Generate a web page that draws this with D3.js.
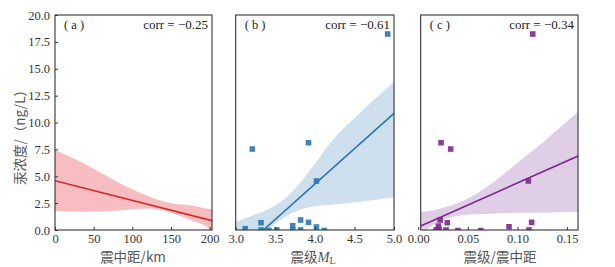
<!DOCTYPE html>
<html>
<head>
<meta charset="utf-8">
<script src="https://cdn.jsdelivr.net/npm/d3@7"></script>
<style>
  body { margin: 0; background: #fff; }
  text { font-family: "Liberation Serif", "DejaVu Serif", serif; }
  .cjk { font-family: "Noto Sans CJK SC", sans-serif; }
</style>
</head>
<body>
<svg id="chart" width="615" height="267"></svg>
<script>
// ---- data ----
const yTicks = [0, 2.5, 5, 7.5, 10, 12.5, 15, 17.5, 20];

// (a) distance vs Hg
const aTicks = [0, 50, 100, 150, 200];
const aLine = [[0, 4.59], [203, 0.87]];
const aBandX = [0, 37, 80, 123, 150, 175, 197, 203];
const aBandHi = [7.44, 6.2, 4.5, 3.1, 2.5, 2.3, 1.97, 1.93];
const aBandLo = [1.8, 1.7, 1.8, 2.0, 1.6, 0.93, 0.25, -0.1];

// (b) magnitude vs Hg
const bTicks = [3.0, 3.5, 4.0, 4.5, 5.0];
const bPtsX = [4.92, 3.21, 3.92, 4.02, 3.32, 3.12, 3.32, 3.42, 3.52, 3.72, 3.72, 3.82, 3.92, 3.82, 4.02, 4.12];
const bPtsY = [18.23, 7.53, 8.12, 4.56, 0.68, 0.12, 0, -0.05, 0, 0.4, 0, 0.93, 0.71, 0, 0.28, -0.05];
const bLine = [[3.0, -2.3], [5.0, 10.85]];
const bBandX = [3.0, 3.2, 3.4, 3.6, 3.8, 4.0, 4.2, 4.6, 5.0];
const bBandHi = [0.77, 1.3, 1.9, 2.78, 4.28, 6.17, 8.15, 11.1, 13.8];
const bBandLo = [-4, -1.5, 0, 1.1, 1.85, 2.2, 2.35, 2.65, 3.04];

// (c) magnitude / distance vs Hg
const cTicks = [0, 0.05, 0.1, 0.15];
const cPtsX = [0.1154, 0.0230, 0.0327, 0.111, 0.0222, 0.0293, 0.1143, 0.0203, 0.021, 0.018, 0.028, 0.040, 0.063, 0.0915, 0.1116];
const cPtsY = [18.23, 8.12, 7.53, 4.56, 0.93, 0.68, 0.71, 0.37, 0.06, 0, 0, -0.05, -0.05, 0.3, 0];
const cLine = [[0.0025, 0.37], [0.161, 6.88]];
const cBandX = [0.0025, 0.0102, 0.0303, 0.047, 0.074, 0.0807, 0.1076, 0.1143, 0.138, 0.161];
const cBandHi = [1.7, 1.75, 2.2, 2.79, 4.34, 4.8, 6.82, 7.3, 9.15, 11.0];
const cBandLo = [-0.5, 0.16, 1.09, 1.4, 1.52, 1.55, 1.6, 1.61, 1.65, 1.7];

const corrs = ["corr = \u22120.25", "corr = \u22120.61", "corr = \u22120.34"];
const tags = ["( a )", "( b )", "( c )"];

const svg = d3.select("#chart");
const serif = "'Liberation Serif', 'DejaVu Serif', serif";
const plotTop = 15, plotBottom = 230;
const y = d3.scaleLinear().domain([0, 20]).range([plotBottom, plotTop]);

const panels = [
    { id: "a", left: 55, right: 212, domain: [0, 203], ticks: aTicks, fmt: d3.format("d"),
      line: aLine, bx: aBandX, hi: aBandHi, lo: aBandLo, px: [], py: [],
      color: "#d62a2a", band: "rgba(232,72,80,0.36)" },
    { id: "b", left: 235.7, right: 394, domain: [3.0, 5.0], ticks: bTicks, fmt: d3.format(".1f"),
      line: bLine, bx: bBandX, hi: bBandHi, lo: bBandLo, px: bPtsX, py: bPtsY,
      color: "#2e77ab", band: "rgba(60,130,185,0.25)" },
    { id: "c", left: 420.7, right: 578, domain: [0.0025, 0.161], ticks: cTicks, fmt: d3.format(".2f"),
      line: cLine, bx: cBandX, hi: cBandHi, lo: cBandLo, px: cPtsX, py: cPtsY,
      color: "#7d2a8c", band: "rgba(140,80,160,0.28)" }
];

panels.forEach((p, i) => {
    const x = d3.scaleLinear().domain(p.domain).range([p.left, p.right]);

    svg.append("clipPath").attr("id", "clip-" + p.id)
        .append("rect")
        .attr("x", p.left).attr("y", plotTop)
        .attr("width", p.right - p.left).attr("height", plotBottom - plotTop);

    const g = svg.append("g").attr("clip-path", `url(#clip-${p.id})`);

    const area = d3.area()
        .x((d, k) => x(p.bx[k]))
        .y0((d, k) => y(p.lo[k]))
        .y1((d, k) => y(p.hi[k]))
        .curve(d3.curveMonotoneX);
    g.append("path").datum(p.bx).attr("d", area).attr("fill", p.band);

    g.append("path").datum(p.line)
        .attr("d", d3.line().x(d => x(d[0])).y(d => y(d[1])))
        .attr("stroke", p.color).attr("stroke-width", 1.6).attr("fill", "none");

    const s = 5.6;
    g.selectAll("rect.pt").data(p.px).enter().append("rect")
        .attr("class", "pt")
        .attr("x", (d, k) => x(d) - s / 2)
        .attr("y", (d, k) => y(p.py[k]) - s / 2)
        .attr("width", s).attr("height", s)
        .attr("fill", p.color).attr("opacity", 0.9);

    // x axis, ticks pointing inward
    const xa = svg.append("g").attr("transform", `translate(0,${plotBottom})`)
        .call(d3.axisBottom(x).tickValues(p.ticks).tickFormat(p.fmt)
            .tickSizeInner(-3).tickSizeOuter(0).tickPadding(4));
    xa.attr("font-family", serif);
    xa.select(".domain").remove();
    xa.selectAll("line").attr("stroke", "#333");
    xa.selectAll("text").attr("font-size", "12.5px").attr("fill", "#333");

    if (i === 0) {
        const ya = svg.append("g").attr("transform", `translate(${p.left},0)`)
            .call(d3.axisLeft(y).tickValues(yTicks).tickFormat(d3.format(".1f"))
                .tickSizeInner(-3).tickSizeOuter(0).tickPadding(5));
        ya.attr("font-family", serif);
        ya.select(".domain").remove();
        ya.selectAll("line").attr("stroke", "#333");
        ya.selectAll("text").attr("font-size", "12.5px").attr("fill", "#333");
    }

    // frame
    svg.append("rect")
        .attr("x", p.left).attr("y", plotTop)
        .attr("width", p.right - p.left).attr("height", plotBottom - plotTop)
        .attr("fill", "none").attr("stroke", "#333").attr("stroke-width", 1.1);

    svg.append("text")
        .attr("x", p.left + 9).attr("y", 28.5)
        .attr("font-size", "12.5px").attr("fill", "#222")
        .text(tags[i]);

    svg.append("text")
        .attr("x", p.right - 4).attr("y", 28.5)
        .attr("text-anchor", "end")
        .attr("font-size", "13px").attr("fill", "#222")
        .text(corrs[i]);
});

// axis titles
const labelColor = "#555";
svg.append("text").attr("class", "cjk")
    .attr("transform", "translate(25,134) rotate(-90)")
    .attr("text-anchor", "middle")
    .attr("font-size", "13.5px").attr("fill", labelColor)
    .text("汞浓度/（ng/L）");

svg.append("text").attr("class", "cjk")
    .attr("x", 133).attr("y", 261.5)
    .attr("text-anchor", "middle")
    .attr("font-size", "13.5px").attr("fill", labelColor)
    .text("震中距/km");

const mlab = svg.append("text")
    .attr("x", 313).attr("y", 261.5)
    .attr("text-anchor", "middle")
    .attr("font-size", "13.5px").attr("fill", labelColor);
mlab.append("tspan").attr("class", "cjk").text("震级");
mlab.append("tspan").attr("font-style", "italic").attr("font-size", "14.5px").text("M");
mlab.append("tspan").attr("font-size", "10px").attr("dy", 2).text("L");

svg.append("text").attr("class", "cjk")
    .attr("x", 500).attr("y", 261.5)
    .attr("text-anchor", "middle")
    .attr("font-size", "13.5px").attr("fill", labelColor)
    .text("震级/震中距");
</script>
</body>
</html>
